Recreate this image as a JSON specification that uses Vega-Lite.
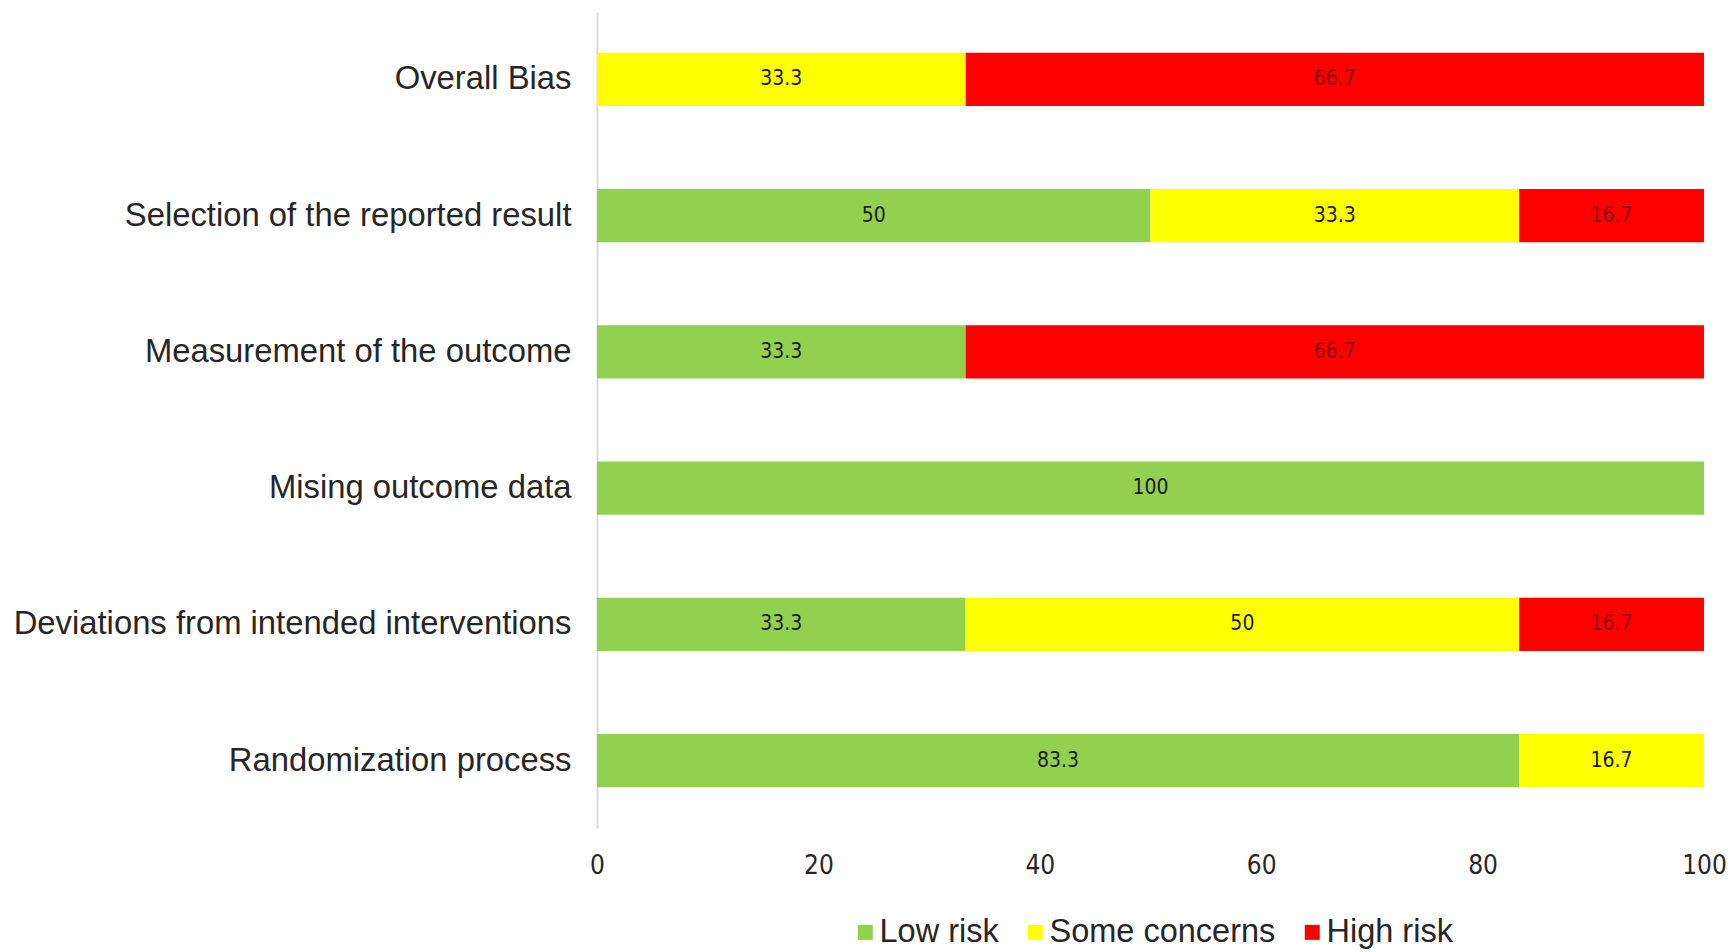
{
  "$schema": "https://vega.github.io/schema/vega-lite/v6.json",
  "autosize": "none",
  "width": 1107,
  "height": 816,
  "padding": {"left": 597, "top": 12, "right": 31, "bottom": 124},
  "background": "white",
  "data": {
    "values": [
      {"domain": "Overall Bias", "risk": "Some concerns", "value": 33.3},
      {"domain": "Overall Bias", "risk": "High risk", "value": 66.7},
      {"domain": "Selection of the reported result", "risk": "Low risk", "value": 50},
      {"domain": "Selection of the reported result", "risk": "Some concerns", "value": 33.3},
      {"domain": "Selection of the reported result", "risk": "High risk", "value": 16.7},
      {"domain": "Measurement of the outcome", "risk": "Low risk", "value": 33.3},
      {"domain": "Measurement of the outcome", "risk": "High risk", "value": 66.7},
      {"domain": "Mising outcome data", "risk": "Low risk", "value": 100},
      {"domain": "Deviations from intended interventions", "risk": "Low risk", "value": 33.3},
      {"domain": "Deviations from intended interventions", "risk": "Some concerns", "value": 50},
      {"domain": "Deviations from intended interventions", "risk": "High risk", "value": 16.7},
      {"domain": "Randomization process", "risk": "Low risk", "value": 83.3},
      {"domain": "Randomization process", "risk": "Some concerns", "value": 16.7}
    ]
  },
  "transform": [
    {"calculate": "indexof(['Low risk','Some concerns','High risk'], datum.risk)", "as": "ord"},
    {"stack": "value", "groupby": ["domain"], "sort": [{"field": "ord", "order": "ascending"}], "as": ["v0", "v1"]},
    {"calculate": "(datum.v0 + datum.v1) / 2", "as": "mid"}
  ],
  "encoding": {
    "y": {
      "field": "domain",
      "type": "nominal",
      "sort": ["Overall Bias", "Selection of the reported result", "Measurement of the outcome", "Mising outcome data", "Deviations from intended interventions", "Randomization process"],
      "scale": {"paddingInner": 0.61, "paddingOuter": 0.3},
      "axis": {
        "title": null,
        "ticks": false,
        "labelFont": "Liberation Sans",
        "labelFontSize": 32.8,
        "labelColor": "#262626",
        "labelPadding": 26,
        "domainColor": "#d9d9d9",
        "domainWidth": 2,
        "labelLimit": 700
      }
    }
  },
  "layer": [
    {
      "mark": {"type": "bar"},
      "encoding": {
        "x": {
          "field": "v0",
          "type": "quantitative",
          "scale": {"domain": [0, 100], "nice": false},
          "axis": {
            "title": null,
            "grid": false,
            "domain": false,
            "ticks": false,
            "labelFlush": false,
            "values": [0, 20, 40, 60, 80, 100],
            "labelFont": "DejaVu Sans Condensed",
            "labelFontSize": 26,
            "labelColor": "#262626",
            "labelPadding": 24
          }
        },
        "x2": {"field": "v1"},
        "color": {
          "field": "risk",
          "type": "nominal",
          "scale": {"domain": ["Low risk", "Some concerns", "High risk"], "range": ["#92D050", "#FFFF00", "#FF0000"]},
          "legend": {
            "title": null,
            "orient": "none",
            "legendX": 252,
            "legendY": 904,
            "direction": "horizontal",
            "symbolType": "square",
            "symbolSize": 225,
            "symbolStrokeWidth": 0,
            "labelFont": "Liberation Sans",
            "labelFontSize": 32.5,
            "labelColor": "#262626",
            "labelOffset": -2,
            "columnPadding": 20,
            "labelLimit": 400
          }
        }
      }
    },
    {
      "mark": {"type": "text", "font": "DejaVu Sans Condensed", "fontSize": 21, "baseline": "middle", "align": "center"},
      "encoding": {
        "x": {"field": "mid", "type": "quantitative"},
        "text": {"field": "value", "type": "quantitative"},
        "color": {
          "condition": {"test": "datum.risk === 'High risk'", "value": "#8a0000"},
          "value": "#1a1a1a"
        }
      }
    }
  ],
  "config": {"view": {"stroke": null}}
}
